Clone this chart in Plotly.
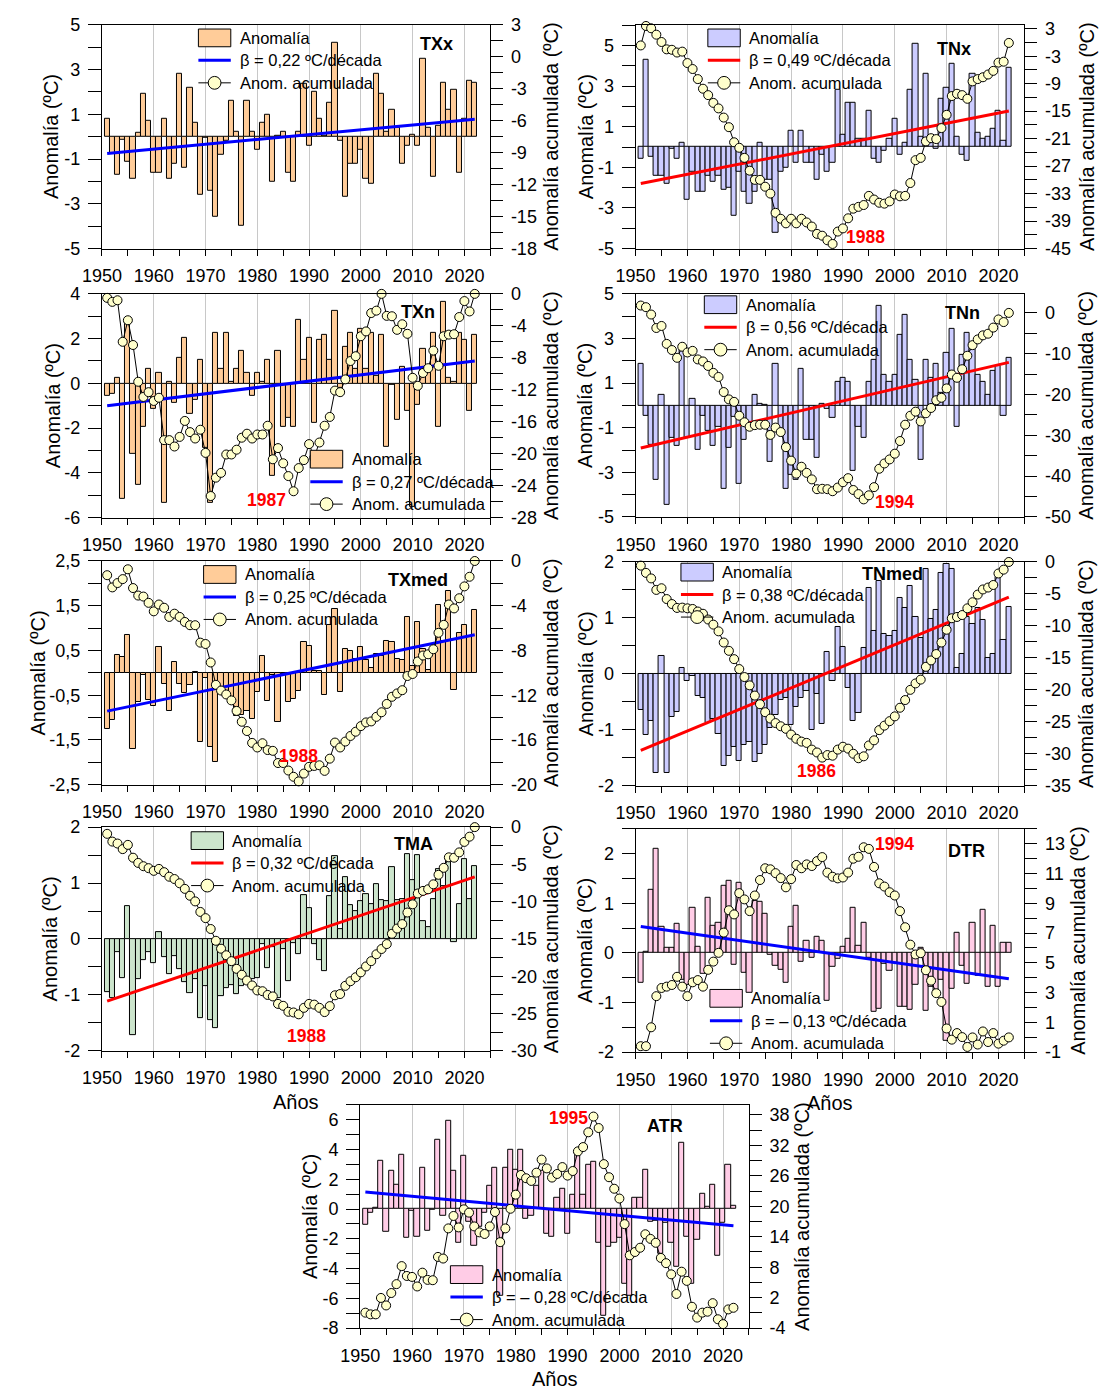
import plotly.graph_objects as go

W, H = 1099, 1396
FONT = "Liberation Sans, Arial, sans-serif"

YEARS = list(range(1951, 2023))

# ---------------- data ----------------
txx_anom = [0.8, -0.75, -1.72, -0.12, -1.13, -1.9, 0.18, 1.9, 0.7, -1.6,
            -1.6, 0.78, -1.9, -1.2, 2.8, -1.4, 2.2, 0.6, -2.6, -0.03,
            -2.4, -3.6, -0.83, -0.2, 1.6, 0.2, -4.0, 1.6, 0.2, -0.6,
            0.6, 1.0, -2.0, 0.02, 0.2, -1.6, -2.0, 0.2, 2.35, -0.4,
            2.0, 0.8, 0.03, 1.5, 4.2, -0.2, -2.7, -1.2, -1.2, -0.6,
            -1.9, -2.1, 2.8, 1.9, 0.2, 1.2, 0.4, -1.2, -0.4, 0.1,
            -0.4, 3.5, 0.4, -1.8, 0.5, 2.4, 1.2, 2.1, -1.6, 0.8,
            2.5, 2.4]
txx_trend = [-0.75, 0.78]

tnx_anom = [-0.6, 4.3, -0.5, -1.4, -1.4, -1.8, -0.1, -0.6, 0.2, -2.6,
            -1.2, -2.2, -2.2, -1.4, -1.7, -1.4, -2.1, -2.0, -3.4, -1.2,
            -2.2, -2.8, -2.2, 0.2, -1.6, -1.6, -4.2, -1.2, -1.0, 0.8,
            -0.8, 0.8, -0.8, -0.8, -1.6, -0.4, -1.2, -0.8, 2.8, 0.6,
            2.2, 2.2, 0.4, 0.4, 1.8, -0.6, -0.8, -0.2, 0.4, 1.4,
            -0.4, 0.2, 2.8, 5.1, 0.5, 3.6, 0.4, -0.1, 2.4, 2.9,
            4.1, 0.5, -0.4, -0.7, 3.6, 0.7, 0.4, 0.5, 0.9, 1.8,
            0.3, 3.9]
tnx_cum = [-0.65, 3.6, 3.1, 1.7, 0.1, -1.5, -1.6, -2.2, -2.0, -4.5,
           -5.8, -8.0, -10.1, -11.5, -13.2, -14.4, -16.4, -18.5, -21.8, -23.0,
           -25.2, -28.0, -30.0, -30.0, -31.5, -33.0, -37.2, -38.5, -39.5, -38.5,
           -39.5, -38.5, -39.3, -40.2, -41.8, -42.2, -43.2, -44.0, -41.3, -40.6,
           -38.4, -36.3, -35.9, -35.5, -33.5, -34.3, -35.0, -35.2, -34.7, -33.2,
           -33.6, -33.5, -30.7, -25.7, -25.2, -21.6, -20.9, -21.1, -18.7, -15.8,
           -11.7, -11.2, -11.5, -12.3, -8.5, -8.0, -7.6, -7.0, -6.2, -4.4,
           -4.2, -0.1]
tnx_trend = [-1.8, 1.77]

txn_anom = [-0.55, -0.45, 0.25, -5.15, 2.7, -3.15, -4.55, -1.95, 0.65, -1.15,
            0.45, -5.35, 0.05, -0.85, 1.15, 2.05, -1.35, -0.75, 1.05, -2.9,
            -5.35, 2.25, 0.65, 2.25, 0.05, 0.65, 1.45, 0.45, -0.55, 0.45,
            0.05, 1.05, -4.15, 1.45, -1.95, -1.55, -1.95, 2.85, 1.05, 2.05,
            -1.75, 1.95, 2.15, 1.05, 3.25, -0.2, 1.65, 2.25, 0.65, 2.45,
            0.65, 2.25, 0.35, 2.15, -2.85, -0.05, -1.65, 0.75, -1.25, -5.5,
            -0.95, 1.55, 0.6, 2.25, -1.95, 3.65, 0.25, 0.05, 2.25, 1.95,
            -1.25, 2.15]
txn_cum = [-0.5, -1.0, -0.8, -6.0, -3.3, -6.4, -11.0, -12.9, -12.3, -13.4,
           -13.0, -18.3, -18.3, -19.1, -17.9, -15.9, -17.3, -18.1, -17.0, -19.9,
           -25.3, -23.0, -22.4, -20.1, -20.1, -19.5, -18.0, -17.5, -18.1, -17.6,
           -17.6, -16.5, -20.7, -19.3, -21.2, -22.8, -24.7, -21.8, -20.8, -18.8,
           -20.5, -18.6, -16.5, -15.4, -12.1, -12.3, -10.7, -8.4, -7.8, -5.3,
           -4.7, -2.4, -2.1, 0.0, -2.75, -2.8, -4.5, -3.8, -5.0, -10.5,
           -11.5, -9.9, -9.3, -7.1, -9.0, -5.3, -5.1, -5.05, -2.9, -0.9,
           -2.2, 0.0]
txn_trend = [-1.0, 1.0]

tnn_anom = [1.85, -0.45, -1.75, -3.35, 0.45, -4.45, -1.45, -1.8, 2.5, -1.45,
            0.3, -2.0, -0.45, -1.15, -1.8, -0.95, -3.75, -1.9, -0.5, -3.5,
            -1.55, -1.0, 0.45, 0.05, 0.03, -2.55, 1.85, -1.1, -3.75, -3.1,
            -3.35, 1.65, -1.55, -1.55, -2.35, 0.05, -0.15, -0.55, 1.05, 1.25,
            1.05, -2.95, -0.95, -1.45, 1.05, 2.05, 4.45, 1.35, 1.05, 1.35,
            3.15, 4.05, 2.05, 1.15, -2.45, 2.05, 1.25, 1.85, 0.55, 2.35,
            3.45, -0.95, 2.25, 3.25, 2.55, 1.35, 1.05, 0.45, 1.55, 1.75,
            -0.45, 2.15]
tnn_cum = [1.8, 1.4, -0.4, -3.7, -3.2, -7.6, -9.1, -11.0, -8.3, -9.7,
           -9.3, -11.4, -11.9, -13.0, -14.7, -15.7, -19.4, -21.2, -21.8, -25.2,
           -26.8, -27.9, -27.5, -27.4, -27.4, -29.9, -28.1, -29.2, -32.9, -36.2,
           -39.4, -37.7, -39.2, -40.8, -43.2, -43.1, -43.2, -43.7, -42.8, -41.5,
           -40.5, -43.4, -44.4, -45.7, -44.7, -42.7, -38.2, -36.9, -35.9, -34.5,
           -31.4, -27.4, -25.2, -24.2, -26.6, -24.6, -23.3, -21.4, -20.8, -18.5,
           -15.1, -15.9, -13.8, -10.5, -7.9, -6.5, -5.5, -5.1, -3.6, -1.6,
           -2.25, 0.0]
tnn_trend = [-1.91, 1.93]

txmed_anom = [-1.25, -1.05, 0.4, 0.35, 0.85, -1.7, -0.65, -0.05, -0.6, -0.75,
              0.58, -0.25, -0.85, 0.25, -0.25, -0.45, -0.28, 0.02, -1.55, -0.12,
              -1.65, -1.99, -0.45, -0.4, -0.55, -0.97, -0.95, -0.85, -1.02, -0.42,
              0.37, -0.62, -0.05, -1.1, -0.02, -0.65, -0.58, -0.4, 0.7, 0.6,
              0.05, 0.05, -0.5, 1.07, 1.43, -0.43, 0.53, 0.48, 0.3, 0.57,
              0.28, 0.1, 0.43, 0.38, 0.72, 0.7, 0.3, 0.28, 1.25, 0.15,
              1.13, 0.53, 0.07, 0.52, 1.52, 0.72, 1.83, -0.38, 0.9, 1.07,
              0.82, 1.4]
txmed_cum = [-1.27, -2.36, -1.97, -1.62, -0.74, -2.42, -3.09, -3.18, -3.74, -4.5,
             -3.89, -4.18, -5.0, -4.71, -5.0, -5.45, -5.74, -5.74, -7.3, -7.42,
             -9.07, -11.07, -11.58, -11.93, -12.46, -13.4, -14.37, -15.2, -16.26, -16.67,
             -16.29, -16.9, -16.97, -18.06, -18.06, -18.73, -19.29, -19.7, -19.0, -18.4,
             -18.32, -18.26, -18.76, -17.67, -16.23, -16.67, -16.14, -15.64, -15.26, -14.76,
             -14.43, -14.34, -13.93, -13.52, -12.78, -12.14, -11.84, -11.55, -10.28, -10.1,
             -8.98, -8.45, -8.34, -7.89, -6.42, -5.71, -3.89, -4.24, -3.33, -2.27,
             -1.41, 0.0]
txmed_trend = [-0.855, 0.85]

tnmed_anom = [-0.65, -1.1, -0.85, -1.78, 0.32, -1.78, -0.77, -0.68, 0.1, -0.12,
              -0.03, -0.4, -0.43, -0.87, -0.8, -1.08, -1.65, -1.47, -1.3, -1.56,
              -1.27, -1.22, -1.58, -1.43, -1.27, -0.97, -0.73, -0.47, -0.43, -0.92,
              -0.6, -0.44, -0.3, -1.0, -0.36, -0.9, 0.4, -0.13, 0.84, 0.48,
              -0.25, -0.84, -0.7, 0.46, 1.53, 0.77, 1.66, 0.72, 0.68, 0.76,
              1.35, 1.18, 1.57, 1.02, 0.64, 1.88, 0.98, 1.14, 1.8, 1.96,
              1.88, 0.11, 0.35, 1.02, 0.9, 1.17, 0.97, 0.29, 0.35, 1.73,
              0.6, 1.19]
tnmed_cum = [-0.57, -1.7, -2.57, -4.37, -4.11, -5.8, -6.58, -7.19, -7.14, -7.25,
             -7.35, -7.75, -8.1, -9.0, -9.8, -10.85, -12.6, -13.9, -15.2, -16.75,
             -18.0, -19.3, -20.9, -22.25, -23.5, -24.5, -25.2, -25.7, -26.1, -27.0,
             -27.65, -28.1, -28.3, -29.35, -29.8, -30.6, -30.2, -30.3, -29.35, -28.9,
             -29.2, -30.0, -30.7, -30.4, -28.7, -27.9, -26.3, -25.6, -24.9, -24.15,
             -22.8, -21.6, -20.0, -19.0, -18.4, -16.4, -15.4, -14.4, -12.6, -10.6,
             -8.8, -8.6, -8.3, -7.25, -6.3, -5.1, -4.3, -4.0, -3.6, -1.8,
             -1.2, 0.0]
tnmed_trend = [-1.37, 1.37]

tma_anom = [-0.95, -1.05, -0.23, -0.7, 0.58, -1.72, -0.72, -0.38, -0.23, -0.43,
            0.13, -0.33, -0.63, -0.3, -0.53, -0.77, -0.97, -0.72, -1.42, -0.85,
            -1.45, -1.6, -1.03, -0.88, -0.82, -0.98, -0.85, -0.75, -0.72, -0.7,
            -0.1, -0.52, -0.15, -1.05, -0.18, -0.75, -0.08, -0.27, 0.78, 0.55,
            -0.1, -0.38, -0.58, 0.77, 1.48, 0.18, 1.1, 0.6, 0.5, 0.67,
            0.81, 0.63, 0.99, 0.7, 0.68, 1.29, 0.7, 0.72, 1.52, 1.06,
            1.5, 0.32, 0.21, 0.72, 1.25, 0.95, 1.45, -0.05, 0.62, 1.42,
            0.72, 1.3]
tma_cum = [-0.9, -1.94, -2.2, -2.95, -2.38, -4.1, -4.8, -5.24, -5.5, -5.86,
           -5.6, -6.04, -6.65, -6.96, -7.53, -8.28, -9.2, -9.96, -11.37, -12.2,
           -13.66, -15.24, -16.3, -17.18, -17.97, -19.0, -19.8, -20.57, -21.23, -21.9,
           -22.0, -22.5, -22.7, -23.7, -23.96, -24.76, -24.85, -25.1, -24.23, -23.7,
           -23.8, -24.23, -24.8, -24.0, -22.55, -22.38, -21.28, -20.66, -20.13, -19.47,
           -18.68, -17.97, -17.05, -16.34, -15.68, -14.3, -13.6, -13.0, -11.45, -10.35,
           -8.9, -8.55, -8.33, -7.67, -6.39, -5.46, -4.05, -4.1, -3.39, -1.98,
           -1.28, 0.0]
tma_trend = [-1.11, 1.11]

dtr_anom = [-0.6, 0.03, 1.27, 2.1, 0.53, 0.1, 0.1, 0.58, -0.55, -0.65,
            0.9, 0.13, -0.42, 1.1, 0.55, 0.6, 1.35, 1.46, -0.25, 1.42,
            -0.4, -0.8, 1.05, 1.02, 0.79, -0.03, -0.27, -0.35, -0.6, 0.53,
            0.95, -0.18, 0.24, -0.1, 0.32, 0.24, -0.97, -0.28, -0.12, 0.12,
            0.28, 0.9, 0.15, 0.6, -0.1, -1.18, -1.12, -0.22, -0.37, -0.2,
            -1.08, -1.08, -1.15, -0.65, 0.1, -1.16, -0.68, -0.8, -0.55, -1.78,
            -0.72, 0.41, -0.27, -0.62, 0.6, -0.46, 0.87, -0.68, 0.55, -0.68,
            0.2, 0.21]
dtr_cum = [-0.6, -0.6, 0.67, 2.76, 3.31, 3.4, 3.51, 4.06, 3.4, 2.76,
           3.69, 3.84, 3.4, 4.53, 5.08, 5.67, 7.03, 8.53, 8.25, 9.68,
           9.26, 8.47, 9.52, 10.56, 11.35, 11.28, 11.02, 10.69, 10.07, 10.62,
           11.57, 11.35, 11.61, 11.5, 11.83, 12.1, 11.06, 10.78, 10.67, 10.73,
           11.06, 11.99, 12.12, 12.76, 12.65, 11.44, 10.34, 10.12, 9.74, 9.52,
           8.47, 7.39, 6.22, 5.56, 5.65, 4.5, 3.8, 2.96, 2.37, 0.59,
           -0.16, 0.28, 0.01, -0.65, -0.01, -0.49, 0.39, -0.32, 0.28, -0.43,
           -0.23, -0.01]
dtr_trend = [0.53, -0.52]

atr_anom = [-1.05, -0.25, 0.05, 3.25, -1.55, 2.55, 1.65, 3.65, -1.95, -0.15,
            -1.85, 2.75, -1.45, -0.05, 4.65, -0.45, 5.95, 2.55, -2.25, 3.55,
            -0.85, -2.45, -1.2, -0.25, 1.55, 2.75, -5.85, 2.75, 3.95, 2.65,
            3.95, -0.65, -0.45, 1.55, 2.55, -1.65, -1.85, 0.75, 1.35, -1.65,
            0.95, 3.85, 0.95, 2.95, 3.15, -2.25, -7.15, -2.55, -2.25, -1.95,
            -5.05, -5.85, 0.75, 0.75, 2.65, -0.85, -0.8, -3.0, -0.95, -2.25,
            -3.85, 4.45, -1.85, -5.05, -2.05, 1.05, 0.15, 1.65, -3.15, -0.95,
            2.95, 0.25]
atr_cum = [-0.95, -1.28, -1.28, 1.95, 0.47, 2.92, 4.67, 8.22, 6.28, 6.09,
           4.21, 6.93, 5.51, 5.44, 10.03, 9.71, 15.65, 18.1, 15.84, 19.4,
           18.75, 16.04, 14.87, 14.55, 16.04, 18.88, 12.94, 15.65, 19.52, 22.3,
           26.18, 25.53, 25.0, 26.63, 29.2, 27.47, 25.66, 26.37, 27.73, 26.05,
           26.95, 30.83, 31.67, 34.58, 37.68, 35.42, 28.31, 25.73, 23.46, 21.53,
           16.49, 10.35, 11.0, 11.84, 14.49, 13.58, 12.81, 9.83, 8.8, 6.6,
           2.73, 7.12, 5.31, 0.21, -1.92, -0.95, -0.76, 0.92, -2.25, -3.21,
           -0.31, 0.01]
atr_trend = [1.14, -1.13]

# ---------------- styling ----------------
TX_FILL = "#FFCC99"
TN_FILL = "#CCCCFF"
TMA_FILL = "#CCE5CC"
DR_FILL = "#FFCCE6"
BLUE = "#0000FF"
RED = "#FF0000"
MARK = "#FFFFCC"
GRID = "#C8C8C8"

TICK_SIZE = 18
TITLE_SIZE = 20
LEG_SIZE = 16.5

LX = (83.5, 479.0)
RX = (627.0, 1023.0)
CX = (346.5, 742.5)

panels = [
    dict(name="TXx", anom=txx_anom, cum=None, trend=txx_trend, beta="β = 0,22 ºC/década",
         fill=TX_FILL, tc=BLUE, xs=LX, ys=(15, 242),
         left=(-5, 5, -5, 5, 2, 1), right=(-18, 3, -18, 3, 3, 1.5),
         leg=(181.7, 19.3), lab=(424.4, 34.3), red=None, ltx=31, rtx=541, xt=False),
    dict(name="TNx", anom=tnx_anom, cum=tnx_cum, trend=tnx_trend, beta="β = 0,49 ºC/década",
         fill=TN_FILL, tc=RED, xs=RX, ys=(15, 242),
         left=(-5, 6.02, -5, 5, 2, 1), right=(-45, 3.86, -45, 3, 6, 3),
         leg=(700.6, 19.3), lab=(951.3, 39.3), red=("1988", 861, 230), ltx=576, rtx=1086, xt=False),
    dict(name="TXn", anom=txn_anom, cum=txn_cum, trend=txn_trend, beta="β = 0,27 ºC/década",
         fill=TX_FILL, tc=BLUE, xs=LX, ys=(288, 515),
         left=(-6, 4, -6, 4, 2, 1), right=(-28, 0, -28, 0, 4, 2),
         leg=(295.7, 446.7), lab=(405.8, 306.7), red=("1987", 251.5, 496.7), ltx=33, rtx=541, xt=False),
    dict(name="TNn", anom=tnn_anom, cum=tnn_cum, trend=tnn_trend, beta="β = 0,56 ºC/década",
         fill=TN_FILL, tc=RED, xs=RX, ys=(288, 514.3),
         left=(-5, 5, -5, 5, 2, 1), right=(-50, 4.66, -50, 0, 10, 5),
         leg=(697, 290), lab=(960.4, 307.3), red=("1994", 890.3, 499), ltx=576, rtx=1086, xt=False),
    dict(name="TXmed", anom=txmed_anom, cum=txmed_cum, trend=txmed_trend, beta="β = 0,25 ºC/década",
         fill=TX_FILL, tc=BLUE, xs=LX, ys=(559, 786),
         left=(-2.5, 2.5, -2.5, 2.5, 1, 0.5), right=(-20, 0, -20, 0, 4, 2),
         leg=(187, 563.7), lab=(405.5, 578.7), red=("1988", 283.4, 757), ltx=18, rtx=541, xt=False),
    dict(name="TNmed", anom=tnmed_anom, cum=tnmed_cum, trend=tnmed_trend, beta="β = 0,38 ºC/década",
         fill=TN_FILL, tc=RED, xs=RX, ys=(560, 787),
         left=(-2, 2, -2, 2, 1, 0.5), right=(-35, 0, -35, 0, 5, 2.5),
         leg=(673.2, 561.3), lab=(888.9, 572.3), red=("1986", 810.9, 772), ltx=576, rtx=1086, xt=False),
    dict(name="TMA", anom=tma_anom, cum=tma_cum, trend=tma_trend, beta="β = 0,32 ºC/década",
         fill=TMA_FILL, tc=RED, xs=LX, ys=(829, 1056),
         left=(-2, 2, -2, 2, 1, 0.5), right=(-30, 0, -30, 0, 5, 2.5),
         leg=(174.3, 833.7), lab=(400.6, 846), red=("1988", 292.2, 1041.3), ltx=31, rtx=541, xt=True),
    dict(name="DTR", anom=dtr_anom, cum=dtr_cum, trend=dtr_trend, beta="β = – 0,13 ºC/década",
         fill=DR_FILL, tc=BLUE, xs=RX, ys=(830.7, 1057.3),
         left=(-2, 2.5, -2, 2, 1, 0.5), right=(-1, 14, -1, 13, 2, 1),
         leg=(702.7, 993.7), lab=(963.9, 853), red=("1994", 890.3, 846.3), ltx=576, rtx=1078, xt=True),
    dict(name="ATR", anom=atr_anom, cum=atr_cum, trend=atr_trend, beta="β = – 0,28 ºC/década",
         fill=DR_FILL, tc=BLUE, xs=CX, ys=(1110.7, 1337.3),
         left=(-8, 7, -8, 6, 2, 1), right=(-4, 40, -4, 38, 6, 3),
         leg=(438.4, 1274), lab=(657, 1132.7), red=("1995", 558.9, 1124), ltx=296, rtx=797, xt=True),
]


def PX(x):
    return x / W


def PY(y):
    return 1 - y / H


def seq(a, b, step):
    out, i = [], 0
    while True:
        v = round(a + i * step, 6)
        if v > b + 1e-9:
            break
        out.append(v)
        i += 1
    return out


def fmt(v):
    if abs(v - round(v)) < 1e-9:
        s = str(int(round(v)))
    else:
        s = f"{v:.1f}"
    return s.replace(".", ",")


def axis_ticks(spec):
    lo, hi, m0, m1, step, mstep = spec
    major = seq(m0, m1, step)
    minor = [v for v in seq(m0, hi, mstep) if all(abs(v - t) > 1e-6 for t in major)]
    return major, [fmt(v) for v in major], minor


tickfont = dict(family=FONT, size=TICK_SIZE, color="black")
fig = go.Figure()
layout = dict(width=W, height=H, margin=dict(l=0, r=0, t=0, b=0),
              paper_bgcolor="white", plot_bgcolor="white", showlegend=False,
              bargap=0, font=dict(family=FONT, color="black"))
shapes, annotations = [], []

for k, p in enumerate(panels):
    xi, y1i, y2i = k + 1, 2 * k + 1, 2 * k + 2
    xa = "x" if xi == 1 else f"x{xi}"
    ya1 = "y" if y1i == 1 else f"y{y1i}"
    ya2 = f"y{y2i}"
    xkey = "xaxis" if xi == 1 else f"xaxis{xi}"
    y1key = "yaxis" if y1i == 1 else f"yaxis{y1i}"
    y2key = f"yaxis{y2i}"
    x0, x1 = p["xs"]
    top, bot = p["ys"]

    fig.add_trace(go.Bar(x=YEARS, y=p["anom"], width=1, xaxis=xa, yaxis=ya1,
                         marker=dict(color=p["fill"], line=dict(color="black", width=1)),
                         showlegend=False, hoverinfo="x+y"))
    fig.add_trace(go.Scatter(x=[YEARS[0], YEARS[-1]], y=p["trend"], mode="lines",
                             xaxis=xa, yaxis=ya1, line=dict(color=p["tc"], width=3),
                             showlegend=False))
    if p["cum"] is not None:
        fig.add_trace(go.Scatter(x=YEARS, y=p["cum"], mode="lines+markers",
                                 xaxis=xa, yaxis=ya2, cliponaxis=False,
                                 line=dict(color="black", width=1),
                                 marker=dict(size=9, color=MARK, line=dict(color="black", width=1)),
                                 showlegend=False))
    else:
        # series shown only in the legend; keeps the right-hand axis drawn
        fig.add_trace(go.Scatter(x=[None], y=[None], mode="markers", xaxis=xa, yaxis=ya2,
                                 showlegend=False, hoverinfo="skip"))

    xt_vals = seq(1950, 2020, 10)
    layout[xkey] = dict(domain=[PX(x0), PX(x1)], anchor=ya1, range=[1950, 2025],
                        tickmode="array", tickvals=xt_vals, ticktext=[str(int(v)) for v in xt_vals],
                        ticks="outside", ticklen=6, tickcolor="black", tickwidth=1,
                        minor=dict(tickmode="array", tickvals=seq(1955, 2025, 10), ticks="outside",
                                   ticklen=6, tickcolor="black", showgrid=False),
                        showgrid=True, gridcolor=GRID, gridwidth=1,
                        showline=True, linecolor="black", linewidth=1, mirror=True,
                        zeroline=False, tickfont=tickfont, ticklabelstandoff=5, fixedrange=True)

    lv, lt, lm = axis_ticks(p["left"])
    layout[y1key] = dict(domain=[PY(bot), PY(top)], anchor=xa, range=[p["left"][0], p["left"][1]],
                         tickmode="array", tickvals=lv, ticktext=lt,
                         ticks="outside", ticklen=13, tickcolor="black", tickwidth=1,
                         minor=dict(tickmode="array", tickvals=lm, ticks="outside", ticklen=13,
                                    tickcolor="black", showgrid=False),
                         showline=True, linecolor="black", linewidth=1, showgrid=False,
                         zeroline=False, tickfont=tickfont, ticklabelstandoff=4, fixedrange=True)
    rv, rt, rm = axis_ticks(p["right"])
    layout[y2key] = dict(overlaying=ya1, anchor=xa, side="right",
                         range=[p["right"][0], p["right"][1]],
                         tickmode="array", tickvals=rv, ticktext=rt,
                         ticks="outside", ticklen=12, tickcolor="black", tickwidth=1,
                         minor=dict(tickmode="array", tickvals=rm, ticks="outside", ticklen=12,
                                    tickcolor="black", showgrid=False),
                         showline=True, linecolor="black", linewidth=1, showgrid=False,
                         zeroline=False, tickfont=tickfont, ticklabelstandoff=4, fixedrange=True)

    # ---- in-panel legend ----
    lx, ly = p["leg"]
    rows = [ly + 9, ly + 9 + 22.8, ly + 9 + 45.6]
    shapes.append(dict(type="rect", xref="paper", yref="paper",
                       x0=PX(lx), x1=PX(lx + 33), y0=PY(ly + 18), y1=PY(ly),
                       fillcolor=p["fill"], line=dict(color="black", width=1)))
    shapes.append(dict(type="line", xref="paper", yref="paper",
                       x0=PX(lx), x1=PX(lx + 33), y0=PY(rows[1]), y1=PY(rows[1]),
                       line=dict(color=p["tc"], width=3)))
    shapes.append(dict(type="line", xref="paper", yref="paper",
                       x0=PX(lx), x1=PX(lx + 33), y0=PY(rows[2]), y1=PY(rows[2]),
                       line=dict(color="black", width=1)))
    cxm, r = lx + 16.5, 6.5
    shapes.append(dict(type="circle", xref="paper", yref="paper",
                       x0=PX(cxm - r), x1=PX(cxm + r), y0=PY(rows[2] + r), y1=PY(rows[2] - r),
                       fillcolor=MARK, line=dict(color="black", width=1)))
    for txt, ry in zip(["Anomalía", p["beta"], "Anom. acumulada"], rows):
        annotations.append(dict(text=txt, x=PX(lx + 40), y=PY(ry), xref="paper", yref="paper",
                                xanchor="left", yanchor="middle", showarrow=False,
                                font=dict(family=FONT, size=LEG_SIZE, color="black")))

    # ---- panel name ----
    annotations.append(dict(text=f"<b>{p['name']}</b>", x=PX(p["lab"][0]), y=PY(p["lab"][1]),
                            xref="paper", yref="paper", xanchor="center", yanchor="middle",
                            showarrow=False, font=dict(family=FONT, size=18, color="black")))
    if p["red"] is not None:
        t, rx, ry = p["red"]
        annotations.append(dict(text=f"<b>{t}</b>", x=PX(rx), y=PY(ry), xref="paper", yref="paper",
                                xanchor="center", yanchor="middle", showarrow=False,
                                font=dict(family=FONT, size=17.5, color=RED)))

    # ---- axis titles ----
    cy = (top + bot) / 2
    annotations.append(dict(text="Anomalía (ºC)", x=PX(p["ltx"]), y=PY(cy), textangle=-90,
                            xref="paper", yref="paper", xanchor="center", yanchor="middle",
                            showarrow=False, font=dict(family=FONT, size=TITLE_SIZE, color="black")))
    annotations.append(dict(text="Anomalía acumulada (ºC)", x=PX(p["rtx"]), y=PY(cy), textangle=-90,
                            xref="paper", yref="paper", xanchor="center", yanchor="middle",
                            showarrow=False, font=dict(family=FONT, size=TITLE_SIZE, color="black")))
    if p["xt"]:
        annotations.append(dict(text="Años", x=PX((x0 + x1) / 2), y=PY(bot + 52), xref="paper",
                                yref="paper", xanchor="center", yanchor="middle", showarrow=False,
                                font=dict(family=FONT, size=TITLE_SIZE, color="black")))

layout["shapes"] = shapes
layout["annotations"] = annotations
fig.update_layout(**layout)
fig.write_html("out.html", include_plotlyjs=True, config={"displayModeBar": False})
